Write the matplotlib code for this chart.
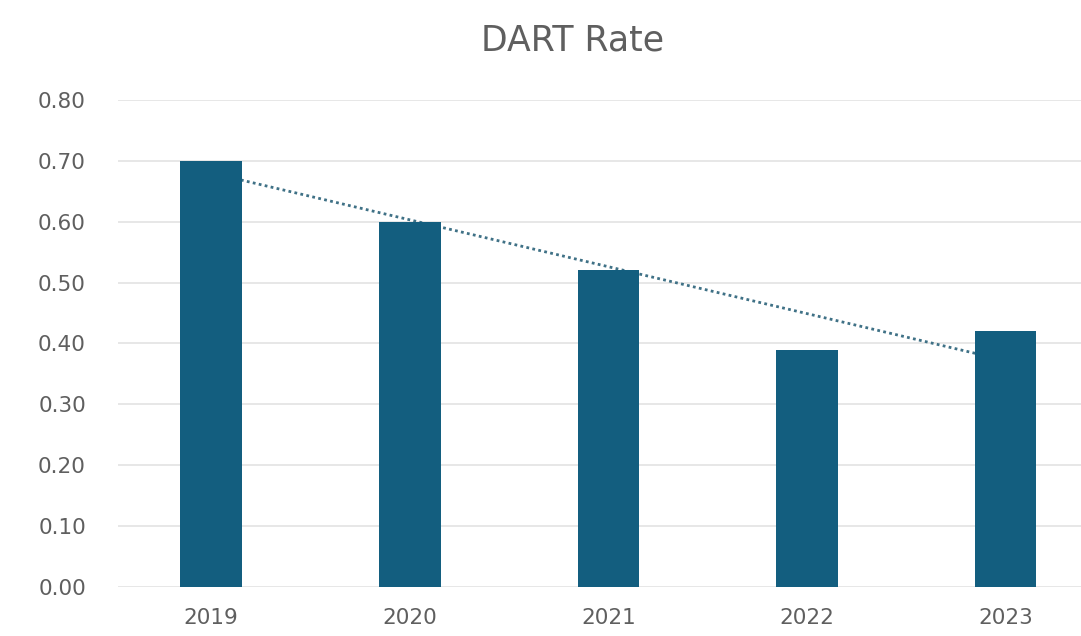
import numpy as np
import matplotlib.pyplot as plt

# data
years = ['2019', '2020', '2021', '2022', '2023']
dart_rate = [0.70, 0.60, 0.52, 0.39, 0.42]
y_ticks = [0.0, 0.1, 0.2, 0.3, 0.4, 0.5, 0.6, 0.7, 0.8]

bar_color = '#135e7f'
trend_color = '#3f7186'
text_color = '#5f5f5f'

fig = plt.figure(figsize=(10.81, 6.36), dpi=100)
ax = fig.add_axes([0.109, 0.077, 0.891, 0.766])

x = np.arange(len(years))
ax.bar(x, dart_rate, width=0.31, color=bar_color, zorder=3)

# linear trendline through the bar values
slope, intercept = np.polyfit(x, dart_rate, 1)
ax.plot(x, slope * x + intercept, linestyle=(0, (1, 1.2)), color=trend_color,
        linewidth=2, zorder=2)

ax.set_xlim(-0.47, 4.38)
ax.set_ylim(0, 0.8)
ax.set_xticks(x)
ax.set_xticklabels(years)
ax.set_yticks(y_ticks)
ax.set_yticklabels([f'{v:.2f}' for v in y_ticks])
ax.grid(axis='y', color='#e3e3e3', linewidth=1.2, zorder=0)
ax.set_axisbelow(True)
for s in ax.spines.values():
    s.set_visible(False)
ax.tick_params(length=0, labelsize=15.5, colors=text_color)
ax.tick_params(axis='x', pad=15)
ax.tick_params(axis='y', pad=23)

fig.suptitle('DART Rate', x=0.53, y=0.963, fontsize=25, color=text_color)

fig.savefig('out.png', dpi=100)
